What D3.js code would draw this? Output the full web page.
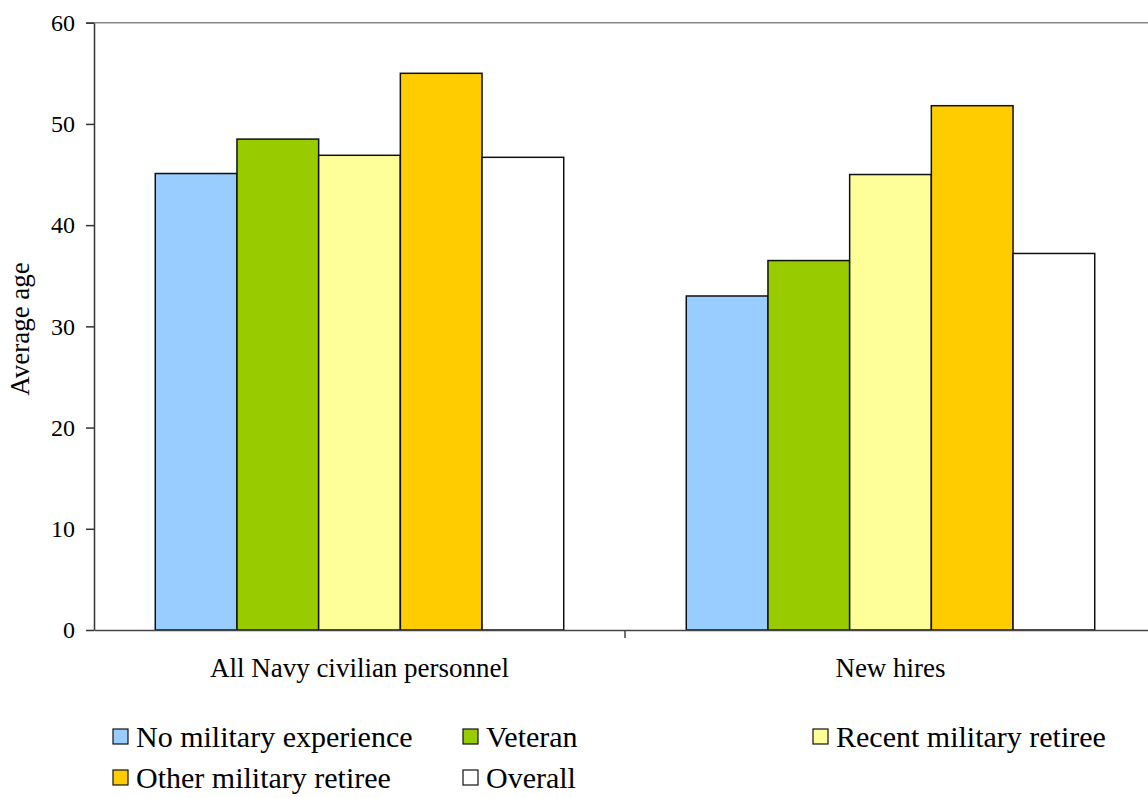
<!DOCTYPE html>
<html>
<head>
<meta charset="utf-8">
<script src="https://cdn.jsdelivr.net/npm/d3@7"></script>
<style>
  html, body { margin: 0; padding: 0; background: #fff; }
  svg { display: block; }
  text { font-family: "Liberation Serif", "DejaVu Serif", serif; fill: #000; }
</style>
</head>
<body>
<svg id="chart" width="1148" height="798"></svg>
<script>
// Groups along the x axis
const groups = ["All Navy civilian personnel", "New hires"];
// Employee categories (one bar each per group)
const series = ["No military experience", "Veteran", "Recent military retiree", "Other military retiree", "Overall"];
const seriesColors = ["#99CCFF", "#99CC00", "#FFFF99", "#FFCC00", "#FFFFFF"];
// Average age per category, in group order
const allNavyValues = [45.1, 48.5, 46.9, 55.0, 46.7];
const newHireValues = [33.0, 36.5, 45.0, 51.8, 37.2];
// Y axis ticks
const yTicks = [0, 10, 20, 30, 40, 50, 60];

const valuesByGroup = [allNavyValues, newHireValues];
const serif = "'Liberation Serif', 'DejaVu Serif', serif";

const svg = d3.select("#chart");
const plot = { left: 94, right: 1156, top: 22.7, bottom: 630 };

const x0 = d3.scaleBand().domain(groups).range([plot.left, plot.right]).padding(0);
const x1 = d3.scaleBand().domain(series).range([0, x0.bandwidth()])
  .paddingInner(0).paddingOuter(0.75);
const y = d3.scaleLinear().domain([0, 60]).range([plot.bottom, plot.top]);

// Top border of the plot area
svg.append("line")
  .attr("x1", plot.left - 8).attr("x2", 1148)
  .attr("y1", y(60)).attr("y2", y(60))
  .attr("stroke", "#888").attr("stroke-width", 1.5);

// Bars
const groupG = svg.selectAll("g.group")
  .data(groups)
  .join("g")
  .attr("class", "group")
  .attr("transform", d => `translate(${x0(d)},0)`);

groupG.selectAll("rect")
  .data((g, gi) => series.map((s, si) => ({ s, si, v: valuesByGroup[gi][si] })))
  .join("rect")
  .attr("x", d => x1(d.s))
  .attr("y", d => y(d.v))
  .attr("width", x1.bandwidth())
  .attr("height", d => y(0) - y(d.v))
  .attr("fill", d => seriesColors[d.si])
  .attr("stroke", "#111")
  .attr("stroke-width", 1.5);

// Y axis
const yAxis = svg.append("g")
  .attr("transform", `translate(${plot.left},0)`)
  .call(d3.axisLeft(y).tickValues(yTicks).tickSize(8).tickPadding(11).tickSizeOuter(0));
yAxis.attr("font-family", null).attr("font-size", null);
yAxis.select(".domain").attr("stroke", "#333").attr("stroke-width", 1.5);
yAxis.selectAll(".tick line").attr("stroke", "#333").attr("stroke-width", 1.5);
yAxis.selectAll(".tick text")
  .attr("font-size", 24)
  .style("font-family", serif)
  .attr("fill", "#000");

// X axis baseline with a tick between the groups
const xAxis = svg.append("g")
  .attr("transform", `translate(0,${plot.bottom})`)
  .call(d3.axisBottom(x0).tickSize(0).tickSizeOuter(0).tickPadding(0));
xAxis.select(".domain").attr("stroke", "#444").attr("stroke-width", 1.5);
xAxis.selectAll(".tick text").remove();
xAxis.selectAll(".tick")
  .filter((d, i) => i > 0)
  .append("line")
  .attr("x1", -x0.bandwidth() / 2).attr("x2", -x0.bandwidth() / 2)
  .attr("y1", 0).attr("y2", 8)
  .attr("stroke", "#444").attr("stroke-width", 1.5);

// Group labels
svg.selectAll("text.group-label")
  .data(groups)
  .join("text")
  .attr("class", "group-label")
  .attr("x", d => x0(d) + x0.bandwidth() / 2)
  .attr("y", 677)
  .attr("text-anchor", "middle")
  .attr("font-size", 27)
  .text(d => d);

// Y axis title
svg.append("text")
  .attr("transform", "translate(29,329) rotate(-90)")
  .attr("text-anchor", "middle")
  .attr("font-size", 27)
  .text("Average age");

// Legend
const legendPos = [
  { x: 113, y: 747 }, { x: 463, y: 747 }, { x: 813, y: 747 },
  { x: 113, y: 788 }, { x: 463, y: 788 }
];
const legend = svg.selectAll("g.legend")
  .data(series)
  .join("g")
  .attr("class", "legend")
  .attr("transform", (d, i) => `translate(${legendPos[i].x},${legendPos[i].y})`);
legend.append("rect")
  .attr("x", 0).attr("y", -18)
  .attr("width", 15).attr("height", 15)
  .attr("fill", (d, i) => seriesColors[i])
  .attr("stroke", "#111").attr("stroke-width", 1.2);
legend.append("text")
  .attr("x", 23).attr("y", 0)
  .attr("font-size", 30)
  .text(d => d);
</script>
</body>
</html>
